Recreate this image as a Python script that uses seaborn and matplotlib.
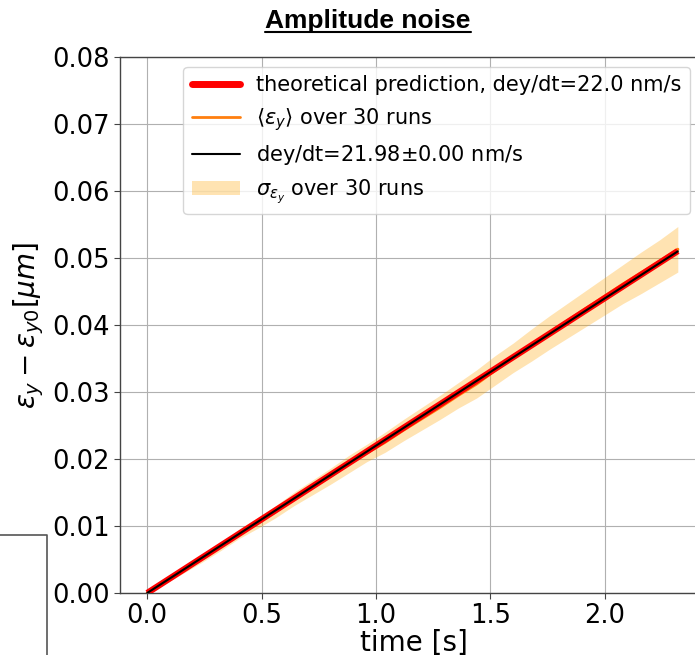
import numpy as np
import pandas as pd
import matplotlib
matplotlib.use("Agg")
import matplotlib.pyplot as plt
from matplotlib.lines import Line2D
from matplotlib.patches import Patch
import seaborn as sns

# time samples [s]
time_s = [0.00, 0.08, 0.16, 0.24, 0.32, 0.40, 0.48, 0.56, 0.64, 0.72,
          0.80, 0.88, 0.96, 1.04, 1.12, 1.20, 1.28, 1.36, 1.44, 1.52,
          1.60, 1.68, 1.76, 1.84, 1.92, 2.00, 2.08, 2.16, 2.24, 2.32]

# mean emittance growth over 30 runs [um]
mean_eps = [0.0000, 0.0017, 0.0034, 0.0051, 0.0069, 0.0088, 0.0104, 0.0121, 0.0140, 0.0157,
            0.0174, 0.0192, 0.0209, 0.0225, 0.0243, 0.0260, 0.0277, 0.0295, 0.0312, 0.0332,
            0.0351, 0.0370, 0.0389, 0.0407, 0.0425, 0.0443, 0.0461, 0.0478, 0.0495, 0.0513]

# standard deviation over 30 runs [um]
std_eps = [0.0000, 0.0003, 0.0004, 0.0005, 0.0006, 0.0007, 0.0008, 0.0009, 0.0010, 0.0011,
           0.0012, 0.0013, 0.0013, 0.0015, 0.0016, 0.0017, 0.0018, 0.0019, 0.0021, 0.0022,
           0.0022, 0.0024, 0.0025, 0.0026, 0.0027, 0.0028, 0.0029, 0.0031, 0.0032, 0.0034]

# theoretical and fitted growth rates [nm/s]
rate_theory = 22.0
rate_fit = 21.98
rate_fit_err = 0.00

t_end = [0.0, 2.32]
theory_eps = [0.0, 0.05104]
fit_eps = [0.0, 0.050994]

df_mean = pd.DataFrame({"t": time_s, "eps": mean_eps})
df_theory = pd.DataFrame({"t": t_end, "eps": theory_eps})
df_fit = pd.DataFrame({"t": t_end, "eps": fit_eps})

sns.set_style("ticks")
plt.rcParams["font.family"] = ["DejaVu Sans"]
for key in ["text.color", "axes.labelcolor", "xtick.color", "ytick.color"]:
    plt.rcParams[key] = "black"

fig = plt.figure(figsize=(6.95, 6.55), dpi=100)
ax = fig.add_axes([120 / 695, 1 - 593 / 655, (708 - 120) / 695, (593 - 57) / 655])

lo = [m - s for m, s in zip(mean_eps, std_eps)]
hi = [m + s for m, s in zip(mean_eps, std_eps)]
ax.fill_between(time_s, lo, hi, color="orange", alpha=0.3, linewidth=0, zorder=1)

sns.lineplot(data=df_mean, x="t", y="eps", ax=ax, color="#ff7f0e", lw=2.2, zorder=2)
sns.lineplot(data=df_theory, x="t", y="eps", ax=ax, color="red", lw=4.5, zorder=3,
             solid_capstyle="butt")
sns.lineplot(data=df_fit, x="t", y="eps", ax=ax, color="black", lw=1.5, zorder=4)

ax.set_xlim(-0.119, 2.452)
ax.set_ylim(0, 0.08)
ax.set_xticks([0.0, 0.5, 1.0, 1.5, 2.0])
ax.set_yticks([0.00, 0.01, 0.02, 0.03, 0.04, 0.05, 0.06, 0.07, 0.08])
ax.xaxis.set_major_formatter(matplotlib.ticker.FormatStrFormatter("%.1f"))
ax.yaxis.set_major_formatter(matplotlib.ticker.FormatStrFormatter("%.2f"))
ax.tick_params(labelsize=18.5, color="#444444", length=4)
ax.grid(True, color="#b0b0b0", lw=0.8)
for side in ["left", "bottom", "top", "right"]:
    ax.spines[side].set_color("#444444")
    ax.spines[side].set_linewidth(1.0)

ax.set_xlabel("time [s]", fontsize=20, labelpad=0)
ax.set_ylabel(r"$\epsilon_y - \epsilon_{y0} [\mu m]$", fontsize=20, labelpad=4)

handles = [
    Line2D([], [], color="red", lw=5),
    Line2D([], [], color="#ff7f0e", lw=2),
    Line2D([], [], color="black", lw=1.5),
    Patch(facecolor="orange", alpha=0.3, edgecolor="none"),
]
labels = [
    f"theoretical prediction, dey/dt={rate_theory:.1f} nm/s",
    r"$\langle\epsilon_y\rangle$ over 30 runs",
    f"dey/dt={rate_fit:.2f}$\\pm${rate_fit_err:.2f} nm/s",
    r"$\sigma_{\epsilon_y}$ over 30 runs",
]
ax.legend(handles, labels, loc="upper right", fontsize=15, frameon=True,
          framealpha=0.8, edgecolor="#cccccc", handlelength=2.3,
          bbox_to_anchor=((690 - 120) / (708 - 120), 1 - 10 / (593 - 57)),
          borderaxespad=0)

# title with underline
fig.text(368 / 695, 1 - 28 / 655, "Amplitude noise", ha="center", va="baseline",
         fontsize=19, fontweight="bold", family=["Liberation Sans", "DejaVu Sans"])
fig.add_artist(Line2D([265 / 695, 471 / 695], [1 - 32 / 655, 1 - 32 / 655],
                      color="black", lw=1.5, transform=fig.transFigure))

# frame corner at lower left
fig.add_artist(Line2D([0, 47 / 695, 47 / 695], [1 - 535 / 655, 1 - 535 / 655, 0],
                      color="#555555", lw=1.2, transform=fig.transFigure))

fig.savefig("out.png", dpi=100)
